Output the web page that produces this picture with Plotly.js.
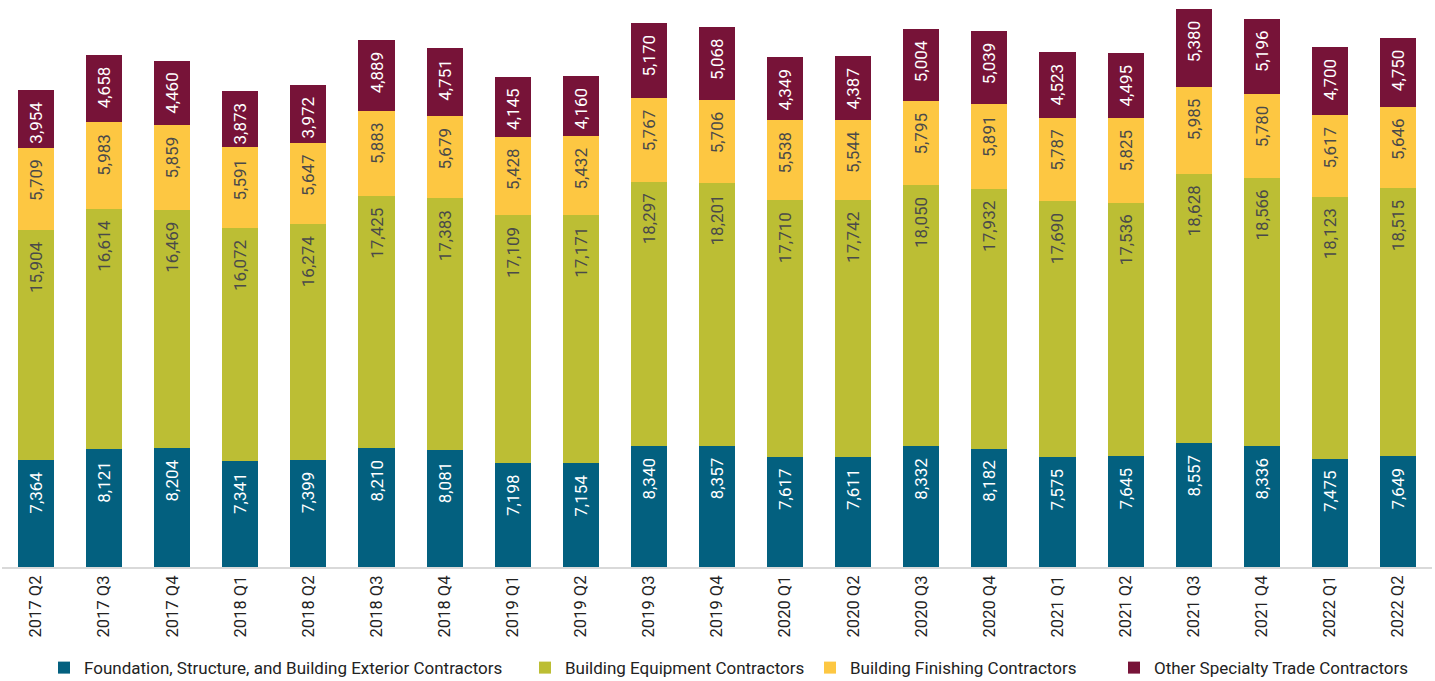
<!DOCTYPE html>
<html><head><meta charset="utf-8">
<script src="https://cdn.plot.ly/plotly-3.0.1.min.js"></script>
<style>html,body{margin:0;padding:0;background:#fff}#chart{width:1435px;height:681px}</style>
</head><body><div id="chart"></div>
<script>
const quarters = ["2017 Q2","2017 Q3","2017 Q4","2018 Q1","2018 Q2","2018 Q3","2018 Q4","2019 Q1","2019 Q2","2019 Q3","2019 Q4","2020 Q1","2020 Q2","2020 Q3","2020 Q4","2021 Q1","2021 Q2","2021 Q3","2021 Q4","2022 Q1","2022 Q2"];
const foundation = [7364,8121,8204,7341,7399,8210,8081,7198,7154,8340,8357,7617,7611,8332,8182,7575,7645,8557,8336,7475,7649];
const equipment  = [15904,16614,16469,16072,16274,17425,17383,17109,17171,18297,18201,17710,17742,18050,17932,17690,17536,18628,18566,18123,18515];
const finishing  = [5709,5983,5859,5591,5647,5883,5679,5428,5432,5767,5706,5538,5544,5795,5891,5787,5825,5985,5780,5617,5646];
const other      = [3954,4658,4460,3873,3972,4889,4751,4145,4160,5170,5068,4349,4387,5004,5039,4523,4495,5380,5196,4700,4750];

const seriesNames = ["Foundation, Structure, and Building Exterior Contractors","Building Equipment Contractors","Building Finishing Contractors","Other Specialty Trade Contractors"];
const seriesData = [foundation, equipment, finishing, other];
const colors = ["#03607F","#BCBE34","#FDC742","#771338"];
const textColors = ["#ffffff","#4a4a4a","#4a4a4a","#ffffff"];
const legendIds = ["legend","legend2","legend3","legend4"];
const legendX = [44, 525, 810, 1114];

const fmt = v => v.toLocaleString("en-US") + "\u2002";
const traces = seriesData.map((d,i)=>({
  type:"bar", name:seriesNames[i], x:quarters, y:d, legend:legendIds[i],
  marker:{color:colors[i]},
  text:d.map(fmt), textposition:"inside", insidetextanchor:"end",
  textangle:-90, texttemplate:"%{text}",
  insidetextfont:{family:"Roboto, sans-serif", size:17, color:textColors[i]},
  hoverinfo:"x+y+name"
}));

const layout = {
  width:1435, height:681,
  barmode:"stack", bargap:0.47,
  margin:{l:2,r:3,t:0,b:114},
  paper_bgcolor:"#fff", plot_bgcolor:"#fff",
  font:{family:"Roboto, sans-serif", color:"#222"},
  xaxis:{type:"category", tickangle:-90, tickfont:{size:16.5,color:"#222"},
    showline:true, linecolor:"#d9d9d9", linewidth:2, ticks:"", showgrid:false, automargin:false},
  yaxis:{range:[0,39180], visible:false, showgrid:false, zeroline:false},
  uniformtext:{mode:"show", minsize:17},
  showlegend:true
};
legendIds.forEach((id,i)=>{
  layout[id] = {orientation:"h", x:legendX[i]/1435, xanchor:"left", xref:"container", yref:"container",
    y:0.019, yanchor:"middle", font:{size:17,color:"#222"}, itemwidth:30, bgcolor:"rgba(0,0,0,0)"};
});
Plotly.newPlot("chart", traces, layout, {displayModeBar:false, staticPlot:true});
</script></body></html>
